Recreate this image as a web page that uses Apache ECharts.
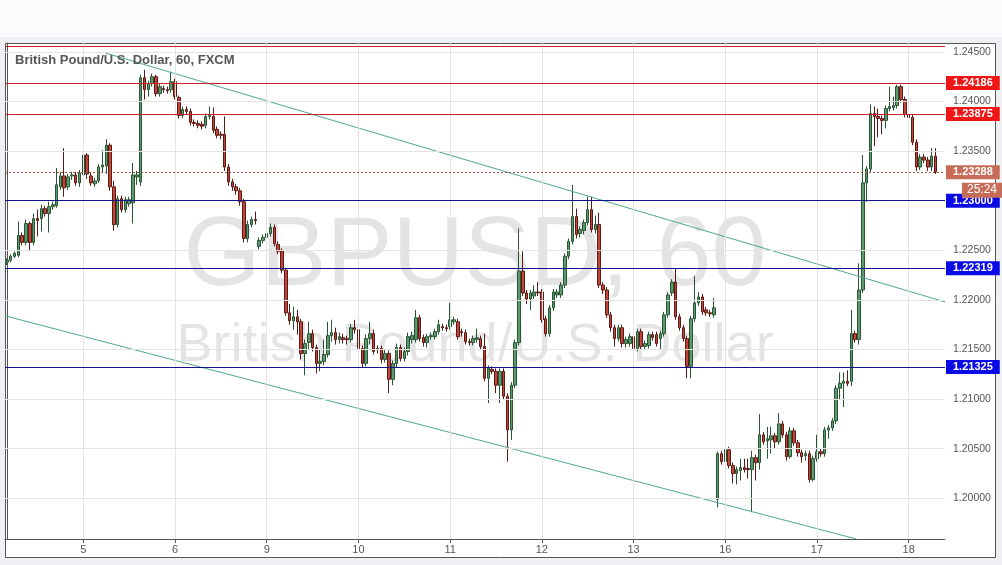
<!DOCTYPE html>
<html><head><meta charset="utf-8">
<script src="https://cdn.jsdelivr.net/npm/echarts@6/dist/echarts.min.js"></script>
<style>html,body{margin:0;padding:0;background:#eef0f3}#c{width:1002px;height:565px}</style>
</head><body><div id="c"></div>
<script>
// ---- DATA ----
const sessionDays = ['4','5','6','9','10','11','12','13','16','17','18'];
const firstHour = 4;
const slotCount = 246;
// hourly candles: [open, close, low, high]
const day4 = [
 [1.2238,1.2240,1.2235,1.2242],[1.2240,1.2244,1.2238,1.2246],[1.2244,1.2247,1.2242,1.2249],[1.2245,1.2265,1.2243,1.2279],
 [1.2265,1.2258,1.2255,1.2268],[1.2258,1.2277,1.2255,1.2281],[1.2277,1.2258,1.2250,1.2279],[1.2258,1.2282,1.2255,1.2287],
 [1.2282,1.2280,1.2264,1.2291],[1.2282,1.2292,1.2269,1.2296],[1.2292,1.2287,1.2284,1.2295],[1.2287,1.2294,1.2268,1.2299],
 [1.2294,1.2296,1.2291,1.2299],[1.2295,1.2316,1.2293,1.2333],[1.2314,1.2325,1.2311,1.2329],[1.2325,1.2313,1.2304,1.2353],
 [1.2314,1.2324,1.2311,1.2327],[1.2325,1.2326,1.2321,1.2329],[1.2326,1.2318,1.2315,1.2329],[1.2318,1.2328,1.2314,1.2331]
];
const day5 = [
 [1.2326,1.2346,1.2323,1.2349],[1.2346,1.2327,1.2322,1.2348],[1.2325,1.2318,1.2315,1.2328],[1.2317,1.2320,1.2314,1.2323],
 [1.2320,1.2334,1.2318,1.2337],[1.2334,1.2336,1.2328,1.2351],[1.2335,1.2356,1.2327,1.2362],[1.2356,1.2314,1.2310,1.2358],
 [1.2314,1.2276,1.2270,1.2320],[1.2276,1.2302,1.2273,1.2305],[1.2302,1.2291,1.2288,1.2305],[1.2291,1.2301,1.2288,1.2304],
 [1.2297,1.2301,1.2294,1.2304],[1.2298,1.2326,1.2277,1.2338],[1.2324,1.2326,1.2316,1.2330],[1.2319,1.2424,1.2315,1.2427],
 [1.2424,1.2412,1.2402,1.2432],[1.2412,1.2418,1.2405,1.2421],[1.2418,1.2425,1.2415,1.2428],[1.2425,1.2408,1.2405,1.2427],
 [1.2408,1.2415,1.2405,1.2418],[1.2413,1.2412,1.2409,1.2416],[1.2412,1.2411,1.2408,1.2415],[1.2412,1.2420,1.2409,1.2430]
];
const day6 = [
 [1.2420,1.2405,1.2402,1.2423],[1.2404,1.2386,1.2383,1.2406],[1.2386,1.2392,1.2383,1.2395],[1.2392,1.2390,1.2387,1.2395],
 [1.2390,1.2379,1.2376,1.2393],[1.2379,1.2378,1.2375,1.2382],[1.2378,1.2376,1.2373,1.2381],[1.2377,1.2375,1.2372,1.2380],
 [1.2376,1.2385,1.2373,1.2388],[1.2385,1.2386,1.2382,1.2395],[1.2385,1.2371,1.2368,1.2394],[1.2372,1.2366,1.2363,1.2375],
 [1.2367,1.2366,1.2362,1.2370],[1.2367,1.2334,1.2330,1.2385],[1.2334,1.2319,1.2315,1.2337],[1.2319,1.2314,1.2310,1.2322],
 [1.2314,1.2310,1.2306,1.2317],[1.2310,1.2299,1.2295,1.2313],[1.2299,1.2262,1.2258,1.2302],[1.2262,1.2276,1.2258,1.2280],
 [1.2276,1.2281,1.2273,1.2284],[1.2281,1.2280,1.2276,1.2289],[1.2254,1.2260,1.2251,1.2263],[1.2260,1.2263,1.2257,1.2266]
];
const day9 = [
 [1.2263,1.2267,1.2260,1.2270],[1.2267,1.2273,1.2264,1.2277],[1.2273,1.2257,1.2254,1.2276],[1.2256,1.2249,1.2246,1.2259],
 [1.2249,1.2230,1.2227,1.2252],[1.2230,1.2187,1.2184,1.2232],[1.2187,1.2179,1.2175,1.2196],[1.2179,1.2183,1.2170,1.2193],
 [1.2183,1.2178,1.2165,1.2190],[1.2178,1.2146,1.2140,1.2181],[1.2146,1.2156,1.2124,1.2160],[1.2157,1.2166,1.2150,1.2178],
 [1.2166,1.2152,1.2148,1.2170],[1.2152,1.2136,1.2126,1.2155],[1.2136,1.2138,1.2128,1.2150],[1.2138,1.2145,1.2134,1.2160],
 [1.2145,1.2164,1.2142,1.2178],[1.2164,1.2167,1.2158,1.2180],[1.2167,1.2160,1.2155,1.2172],[1.2160,1.2163,1.2156,1.2167],
 [1.2162,1.2160,1.2156,1.2166],[1.2161,1.2160,1.2155,1.2164],[1.2160,1.2172,1.2157,1.2176],[1.2172,1.2170,1.2166,1.2180]
];
const day10 = [
 [1.2170,1.2151,1.2148,1.2174],[1.2151,1.2136,1.2132,1.2154],[1.2136,1.2161,1.2133,1.2165],[1.2161,1.2166,1.2155,1.2178],
 [1.2166,1.2148,1.2145,1.2170],[1.2151,1.2150,1.2146,1.2154],[1.2151,1.2140,1.2136,1.2154],[1.2140,1.2146,1.2137,1.2150],
 [1.2146,1.2120,1.2106,1.2149],[1.2120,1.2136,1.2114,1.2139],[1.2136,1.2152,1.2132,1.2156],[1.2152,1.2141,1.2138,1.2155],
 [1.2141,1.2148,1.2138,1.2152],[1.2148,1.2163,1.2144,1.2167],[1.2160,1.2164,1.2156,1.2168],[1.2160,1.2182,1.2157,1.2190],
 [1.2182,1.2161,1.2158,1.2185],[1.2162,1.2157,1.2153,1.2165],[1.2157,1.2163,1.2152,1.2166],[1.2163,1.2164,1.2160,1.2167],
 [1.2163,1.2168,1.2160,1.2171],[1.2168,1.2175,1.2165,1.2180],[1.2173,1.2172,1.2169,1.2176],[1.2172,1.2171,1.2168,1.2175]
];
const day11 = [
 [1.2173,1.2180,1.2170,1.2197],[1.2178,1.2180,1.2175,1.2183],[1.2178,1.2163,1.2160,1.2181],[1.2168,1.2167,1.2163,1.2171],
 [1.2167,1.2158,1.2155,1.2170],[1.2158,1.2157,1.2154,1.2161],[1.2157,1.2161,1.2154,1.2164],[1.2160,1.2162,1.2157,1.2171],
 [1.2161,1.2153,1.2150,1.2164],[1.2153,1.2121,1.2118,1.2166],[1.2121,1.2131,1.2096,1.2134],[1.2130,1.2128,1.2125,1.2133],
 [1.2128,1.2114,1.2106,1.2131],[1.2114,1.2128,1.2096,1.2131],[1.2128,1.2103,1.2100,1.2131],[1.2103,1.2069,1.2037,1.2106],
 [1.2069,1.2114,1.2059,1.2117],[1.2114,1.2157,1.2111,1.2160],[1.2157,1.2229,1.2154,1.2272],[1.2229,1.2207,1.2204,1.2249],
 [1.2207,1.2201,1.2196,1.2210],[1.2201,1.2207,1.2190,1.2210],[1.2204,1.2208,1.2201,1.2215],[1.2208,1.2207,1.2204,1.2218]
];
const day12 = [
 [1.2208,1.2180,1.2177,1.2211],[1.2181,1.2166,1.2163,1.2184],[1.2166,1.2192,1.2163,1.2195],[1.2192,1.2208,1.2189,1.2211],
 [1.2205,1.2208,1.2202,1.2211],[1.2205,1.2215,1.2202,1.2218],[1.2215,1.2244,1.2212,1.2247],[1.2244,1.2259,1.2241,1.2262],
 [1.2259,1.2284,1.2256,1.2316],[1.2284,1.2266,1.2262,1.2292],[1.2267,1.2271,1.2263,1.2274],[1.2270,1.2278,1.2266,1.2281],
 [1.2278,1.2291,1.2275,1.2304],[1.2291,1.2271,1.2268,1.2304],[1.2271,1.2276,1.2267,1.2285],[1.2276,1.2215,1.2212,1.2288],
 [1.2215,1.2210,1.2206,1.2218],[1.2210,1.2185,1.2182,1.2213],[1.2185,1.2172,1.2168,1.2188],[1.2172,1.2161,1.2153,1.2175],
 [1.2161,1.2172,1.2158,1.2175],[1.2172,1.2156,1.2152,1.2175],[1.2156,1.2160,1.2152,1.2163],[1.2156,1.2163,1.2153,1.2166]
];
const day13 = [
 [1.2163,1.2151,1.2140,1.2166],[1.2151,1.2168,1.2148,1.2171],[1.2168,1.2153,1.2150,1.2171],[1.2153,1.2156,1.2150,1.2159],
 [1.2154,1.2165,1.2151,1.2168],[1.2165,1.2162,1.2159,1.2168],[1.2165,1.2156,1.2153,1.2168],[1.2161,1.2166,1.2150,1.2169],
 [1.2166,1.2185,1.2163,1.2188],[1.2185,1.2205,1.2182,1.2208],[1.2207,1.2218,1.2204,1.2221],[1.2218,1.2183,1.2180,1.2232],
 [1.2183,1.2172,1.2169,1.2186],[1.2172,1.2161,1.2158,1.2175],[1.2161,1.2133,1.2121,1.2164],[1.2133,1.2181,1.2121,1.2184],
 [1.2181,1.2197,1.2178,1.2224],[1.2197,1.2203,1.2194,1.2208],[1.2203,1.2188,1.2185,1.2206],[1.2190,1.2187,1.2184,1.2193],
 [1.2187,1.2186,1.2183,1.2190],[1.2185,1.2192,1.2182,1.2202],[1.1999,1.2045,1.1991,1.2047],[1.2045,1.2037,1.2034,1.2048]
];
const day16 = [
 [1.2037,1.2049,1.2034,1.2055],[1.2049,1.2033,1.2030,1.2052],[1.2033,1.2025,1.2015,1.2036],[1.2025,1.2029,1.2014,1.2032],
 [1.2028,1.2031,1.2018,1.2040],[1.2031,1.2029,1.2026,1.2040],[1.2030,1.2029,1.2020,1.2040],[1.2029,1.2041,1.1986,1.2048],
 [1.2041,1.2036,1.2018,1.2044],[1.2036,1.2064,1.2029,1.2085],[1.2064,1.2057,1.2054,1.2067],[1.2058,1.2060,1.2040,1.2072],
 [1.2059,1.2063,1.2045,1.2072],[1.2063,1.2057,1.2050,1.2066],[1.2057,1.2075,1.2054,1.2086],[1.2075,1.2064,1.2061,1.2078],
 [1.2064,1.2042,1.2038,1.2067],[1.2042,1.2068,1.2040,1.2072],[1.2068,1.2056,1.2053,1.2071],[1.2056,1.2046,1.2042,1.2059],
 [1.2046,1.2042,1.2036,1.2049],[1.2043,1.2045,1.2038,1.2048],[1.2045,1.2019,1.2016,1.2048],[1.2019,1.2040,1.2017,1.2043]
];
const day17 = [
 [1.2040,1.2047,1.2037,1.2064],[1.2047,1.2045,1.2042,1.2050],[1.2045,1.2069,1.2042,1.2072],[1.2069,1.2071,1.2060,1.2074],
 [1.2071,1.2078,1.2068,1.2081],[1.2078,1.2111,1.2075,1.2114],[1.2111,1.2116,1.2100,1.2127],[1.2116,1.2118,1.2092,1.2127],
 [1.2118,1.2116,1.2113,1.2129],[1.2118,1.2166,1.2113,1.2190],[1.2166,1.2160,1.2157,1.2169],[1.2160,1.2210,1.2155,1.2237],
 [1.2210,1.2318,1.2207,1.2346],[1.2318,1.2332,1.2299,1.2335],[1.2332,1.2388,1.2329,1.2397],[1.2388,1.2385,1.2355,1.2395],
 [1.2385,1.2383,1.2364,1.2393],[1.2383,1.2381,1.2367,1.2386],[1.2381,1.2393,1.2373,1.2396],[1.2393,1.2395,1.2390,1.2415],
 [1.2394,1.2396,1.2391,1.2405],[1.2396,1.2415,1.2393,1.2417],[1.2415,1.2402,1.2399,1.2417],[1.2402,1.2387,1.2384,1.2405]
];
const day18 = [
 [1.2387,1.2384,1.2381,1.2389],[1.2384,1.2359,1.2356,1.2387],[1.2359,1.2334,1.2330,1.2362],[1.2334,1.2344,1.2331,1.2347],
 [1.2344,1.2341,1.2338,1.2347],[1.2341,1.2334,1.2330,1.2344],[1.2334,1.2345,1.2330,1.2353],[1.2345,1.2329,1.2327,1.2353]
];
const priceTicks = [1.200,1.205,1.210,1.215,1.220,1.225,1.230,1.235,1.240,1.245];
const resistanceLevels = [1.24186, 1.23875];
const topLevel = 1.2456;
const supportLevels = [1.23000, 1.22319, 1.21325];
const lastPrice = 1.23288;
const countdown = '25:24';
const upperTrend = [[25.7, 1.2449], [245.5, 1.2198]];
const lowerTrend = [[-0.5, 1.2184], [222.3, 1.1959]];
const titleText = 'British Pound/U.S. Dollar, 60, FXCM';
const watermark1 = 'GBPUSD, 60';
const watermark2 = 'British Pound/U.S. Dollar';

// ---- BUILD ----
const candles = [].concat(day4, day5, day6, day9, day10, day11, day12, day13, day16, day17, day18);
const categories = [];
{ let d = 0, h = firstHour;
  while (categories.length < slotCount) {
    categories.push(sessionDays[d] + ' ' + String(h).padStart(2,'0') + ':00');
    h++; if (h === 24) { h = 0; d++; }
  } }
const isDayStart = (i, v) => v.endsWith(' 00:00');
const dayStartCats = categories.filter((v,i) => isDayStart(i, v));
const FONT = 'Liberation Sans, Arial, sans-serif';
const RED_LINE = '#c8222c', RED_BOX = '#f01616', BLUE_LINE = '#12128e', BLUE_BOX = '#0a0ae6';
const CUR = '#c86c5a';

function lvl(v, line, box, showLabel, type) {
  return {
    yAxis: v,
    lineStyle: {color: line, width: 1, type: type || 'solid'},
    label: {show: showLabel, position: 'end', distance: 1, formatter: () => v.toFixed(5),
      color: '#fff', fontWeight: 'bold', fontSize: 11, fontFamily: FONT,
      backgroundColor: box, padding: [2, 7, 1, 7]}
  };
}

const chart = echarts.init(document.getElementById('c'), null, {renderer: 'canvas'});
const option = {
  animation: false,
  backgroundColor: '#eef0f3',
  textStyle: {fontFamily: FONT},
  grid: {left: 5, right: 57, top: 43, bottom: 26, containLabel: false},
  graphic: [
    {type: 'rect', z: -10, shape: {x: 0, y: 0, width: 1002, height: 37}, style: {fill: '#fafbfc'}},
    {type: 'rect', z: -9, shape: {x: 5.5, y: 43.5, width: 990, height: 514}, style: {fill: '#fff', stroke: '#555', lineWidth: 1}},
    {type: 'text', z: 1, style: {text: watermark1, x: 475, y: 258, align: 'center', verticalAlign: 'middle',
      font: '99px ' + FONT, fill: 'rgba(0,0,0,0.105)'}},
    {type: 'text', z: 1, style: {text: watermark2, x: 475, y: 346, align: 'center', verticalAlign: 'middle',
      font: '54px ' + FONT, fill: 'rgba(0,0,0,0.105)'}},
    {type: 'text', z: 10, style: {text: titleText, x: 15, y: 60, verticalAlign: 'middle',
      font: 'bold 13px ' + FONT, fill: '#555'}},
    {type: 'text', id: 'timer', z: 10, style: {text: countdown, x: 962, y: 190, verticalAlign: 'middle',
      font: 'bold 11px ' + FONT, fill: '#fff', backgroundColor: CUR, padding: [2, 5, 1, 5]}}
  ],
  xAxis: [{
    type: 'category', data: categories, boundaryGap: true,
    axisLine: {show: true, lineStyle: {color: '#555'}},
    axisTick: {show: true, interval: isDayStart, alignWithLabel: true, length: 4, lineStyle: {color: '#555'}},
    axisLabel: {interval: isDayStart, formatter: v => v.split(' ')[0], color: '#555', fontSize: 11, margin: 5},
    splitLine: {show: false}
  }, {
    type: 'value', min: -0.5, max: slotCount - 0.5, show: false
  }],
  yAxis: [{
    type: 'value', position: 'right', min: 1.1959, max: 1.2459, splitNumber: 10,
    axisLine: {show: true, lineStyle: {color: '#555'}},
    axisTick: {show: true, length: 4, lineStyle: {color: '#555'}},
    axisLabel: {color: '#555', fontSize: 10.5, margin: 8, formatter: v => v.toFixed(5), showMinLabel: false, showMaxLabel: false},
    splitLine: {show: false}
  }],
  series: [
    {
      name: 'grid', type: 'line', data: [], z: 1, silent: true,
      markLine: {silent: true, precision: 5, symbol: ['none', 'none'], animation: false,
        lineStyle: {color: '#e3e3e3', width: 1, type: 'solid'}, label: {show: false},
        emphasis: {disabled: true},
        data: priceTicks.map(v => ({yAxis: v})).concat(dayStartCats.map(c => ({xAxis: c})))}
    },
    {
      name: 'GBPUSD', type: 'candlestick', data: candles, z: 2, barWidth: 3,
      itemStyle: {color: '#5a9a6c', color0: '#c2453b', borderColor: '#2a5535', borderColor0: '#5b1a13', borderWidth: 1}
    },
    {
      name: 'upper', type: 'line', xAxisIndex: 1, data: upperTrend, symbol: 'none', z: 3, silent: true,
      lineStyle: {color: '#4fa596', width: 1}
    },
    {
      name: 'lower', type: 'line', xAxisIndex: 1, data: lowerTrend, symbol: 'none', z: 3, silent: true,
      lineStyle: {color: '#4fa596', width: 1}
    },
    {
      name: 'levels', type: 'line', data: [], z: 4, silent: true,
      markLine: {silent: true, precision: 5, symbol: ['none', 'none'], animation: false, emphasis: {disabled: true},
        data: [lvl(topLevel, RED_LINE, RED_BOX, false)]
          .concat(resistanceLevels.map(v => lvl(v, RED_LINE, RED_BOX, true)))
          .concat([lvl(lastPrice, '#a8553f', CUR, true, [2, 2])])
          .concat(supportLevels.map(v => lvl(v, BLUE_LINE, BLUE_BOX, true)))}
    }
  ]
};
chart.setOption(option);
const yLast = chart.convertToPixel({yAxisIndex: 0}, lastPrice);
chart.setOption({graphic: [{id: 'timer', style: {y: yLast + 18}}]});
</script></body></html>
